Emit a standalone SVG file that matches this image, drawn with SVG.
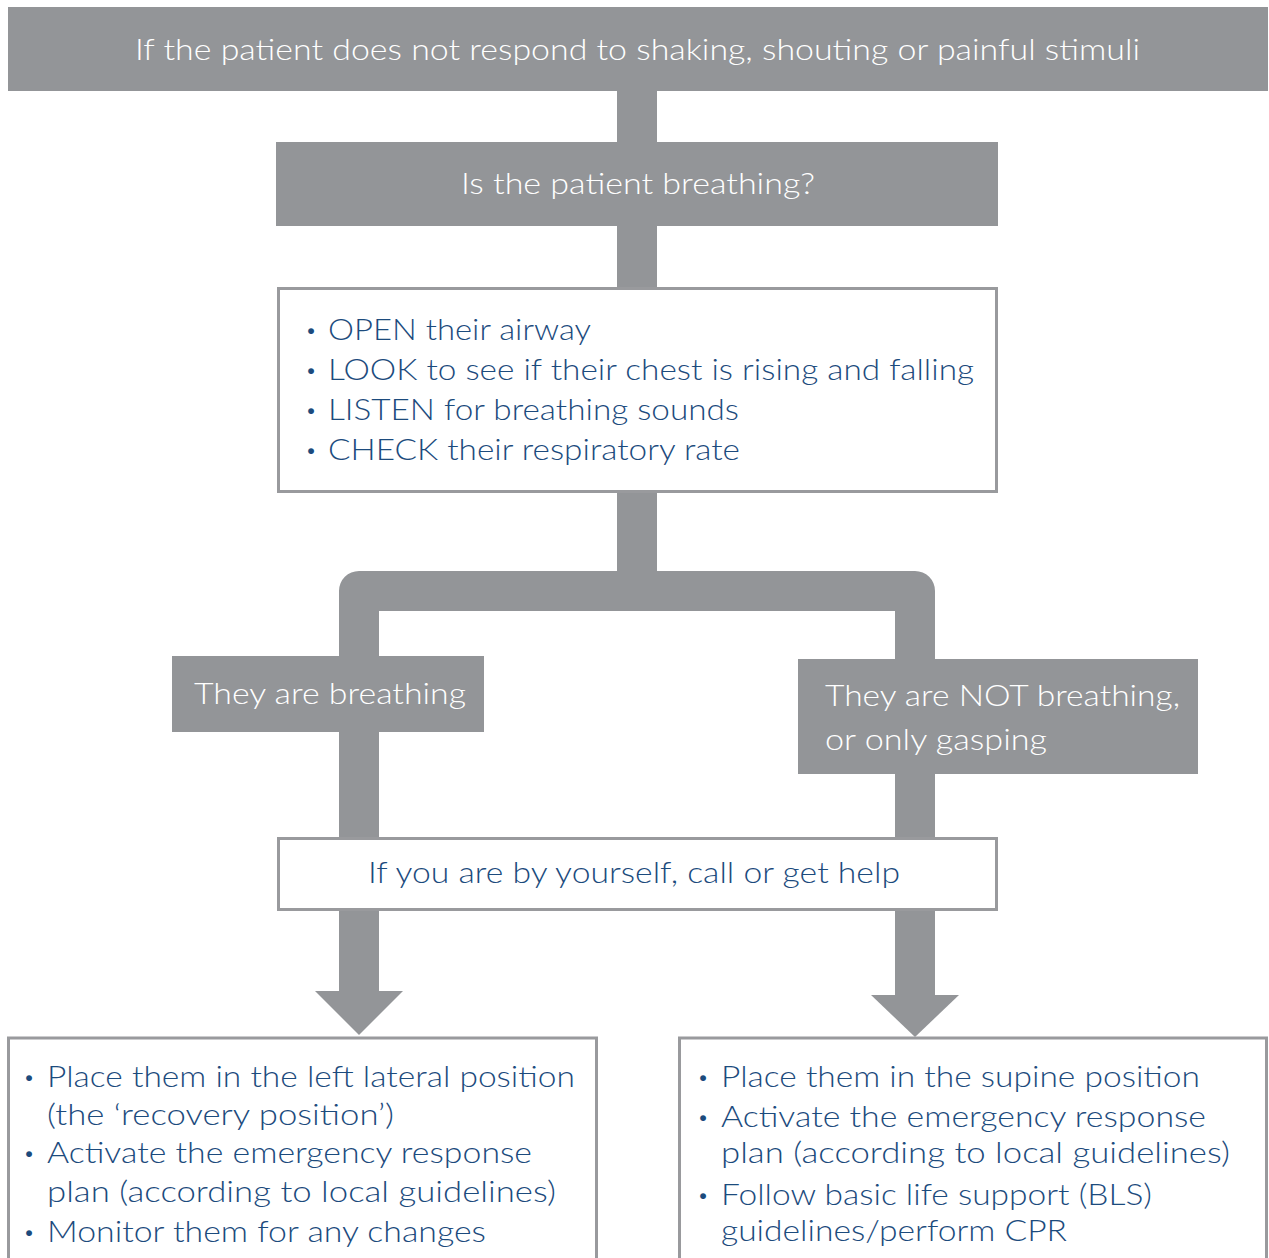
<svg xmlns="http://www.w3.org/2000/svg" width="1269" height="1258" viewBox="0 0 1269 1258">
<style>
.gbox{fill:#939598;}
.wbox{fill:#ffffff;stroke:#999a9d;stroke-width:3;}
.conn{fill:none;stroke:#939598;stroke-width:40;stroke-linejoin:round;}
.head{fill:#939598;}
text{font-family:Lato,"Open Sans","Liberation Sans",sans-serif;font-size:30px;font-weight:300;}
.wt{fill:#ffffff;}
.bt{fill:#1c4b7d;}
.bul{font-size:20px;text-anchor:middle;}
</style>
<rect width="1269" height="1258" fill="#ffffff"/>
<g id="connectors">
<path class="conn" d="M637,91 V591"/>
<path class="conn" d="M359,991 V591 H915 V995"/>
<polygon class="head" points="315,991 403,991 359,1035"/>
<polygon class="head" points="871,995 959,995 915,1037"/>
</g>
<g id="node-start">
<rect class="gbox" x="8" y="7" width="1260" height="84"/>
<text class="wt" x="135" y="60" textLength="1005" lengthAdjust="spacingAndGlyphs">If the patient does not respond to shaking, shouting or painful stimuli</text>
</g>
<g id="node-question">
<rect class="gbox" x="276" y="142" width="722" height="84"/>
<text class="wt" x="461" y="194" textLength="354" lengthAdjust="spacingAndGlyphs">Is the patient breathing?</text>
</g>
<g id="node-check">
<rect class="wbox" x="278.5" y="288.5" width="718" height="203"/>
<g class="bt">
<text class="bul" x="311" y="337">•</text><text x="328" y="340" textLength="263" lengthAdjust="spacingAndGlyphs">OPEN their airway</text>
<text class="bul" x="311" y="377">•</text><text x="328" y="380" textLength="646" lengthAdjust="spacingAndGlyphs">LOOK to see if their chest is rising and falling</text>
<text class="bul" x="311" y="417">•</text><text x="328" y="420" textLength="411" lengthAdjust="spacingAndGlyphs">LISTEN for breathing sounds</text>
<text class="bul" x="311" y="457">•</text><text x="328" y="460" textLength="412" lengthAdjust="spacingAndGlyphs">CHECK their respiratory rate</text>
</g>
</g>
<g id="node-breathing">
<rect class="gbox" x="172" y="656" width="312" height="76"/>
<text class="wt" x="194" y="704" textLength="272" lengthAdjust="spacingAndGlyphs">They are breathing</text>
</g>
<g id="node-not-breathing">
<rect class="gbox" x="798" y="659" width="400" height="115"/>
<text class="wt" x="825" y="706" textLength="355" lengthAdjust="spacingAndGlyphs">They are NOT breathing,</text>
<text class="wt" x="825" y="750" textLength="222" lengthAdjust="spacingAndGlyphs">or only gasping</text>
</g>
<g id="node-help">
<rect class="wbox" x="278.5" y="838.5" width="718" height="71"/>
<text class="bt" x="368" y="883" textLength="532" lengthAdjust="spacingAndGlyphs">If you are by yourself, call or get help</text>
</g>
<g id="node-left-action">
<rect class="wbox" x="8.5" y="1038" width="588" height="240"/>
<g class="bt">
<text class="bul" x="29" y="1084">•</text><text x="47" y="1087" textLength="528" lengthAdjust="spacingAndGlyphs">Place them in the left lateral position</text>
<text x="47" y="1125" textLength="347" lengthAdjust="spacingAndGlyphs">(the ‘recovery position’)</text>
<text class="bul" x="29" y="1160">•</text><text x="47" y="1163" textLength="485" lengthAdjust="spacingAndGlyphs">Activate the emergency response</text>
<text x="47" y="1202" textLength="509" lengthAdjust="spacingAndGlyphs">plan (according to local guidelines)</text>
<text class="bul" x="29" y="1239">•</text><text x="47" y="1242" textLength="439" lengthAdjust="spacingAndGlyphs">Monitor them for any changes</text>
</g>
</g>
<g id="node-right-action">
<rect class="wbox" x="679.5" y="1038" width="587" height="240"/>
<g class="bt">
<text class="bul" x="703" y="1084">•</text><text x="721" y="1087" textLength="479" lengthAdjust="spacingAndGlyphs">Place them in the supine position</text>
<text class="bul" x="703" y="1124">•</text><text x="721" y="1127" textLength="485" lengthAdjust="spacingAndGlyphs">Activate the emergency response</text>
<text x="721" y="1163" textLength="509" lengthAdjust="spacingAndGlyphs">plan (according to local guidelines)</text>
<text class="bul" x="703" y="1202">•</text><text x="721" y="1205" textLength="431" lengthAdjust="spacingAndGlyphs">Follow basic life support (BLS)</text>
<text x="721" y="1241" textLength="346" lengthAdjust="spacingAndGlyphs">guidelines/perform CPR</text>
</g>
</g>
</svg>
